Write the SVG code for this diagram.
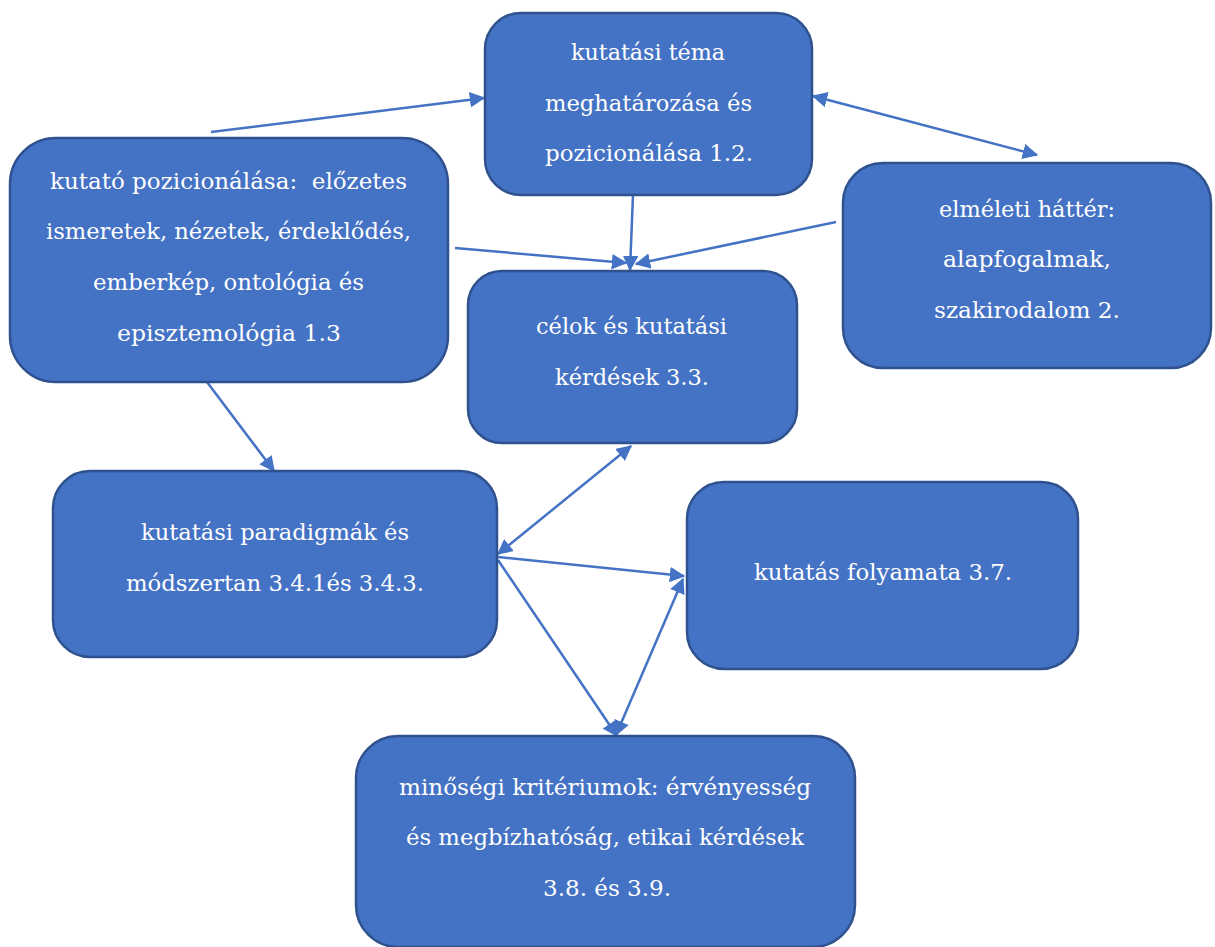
<svg xmlns="http://www.w3.org/2000/svg" width="1215" height="947" viewBox="0 0 1215 947">
  <style>
    .box { fill: #4472C4; stroke: #2F528F; stroke-width: 2.5; }
    .lbl { fill: #FFFFFF; font-family: "DejaVu Serif", "Liberation Serif", serif; font-size: 23px; text-anchor: middle; white-space: pre; }
    .edge { fill: none; stroke: #4472C4; stroke-width: 2.5; }
  </style>
  <defs>
    <marker id="head" viewBox="0 0 12 12" refX="11" refY="6" markerWidth="6.2" markerHeight="6.2" orient="auto-start-reverse" markerUnits="strokeWidth">
      <path d="M0,0 L12,6 L0,12 Z" fill="#4472C4"/>
    </marker>
  </defs>

  <rect width="1215" height="947" fill="#FFFFFF"/>

  <!-- connectors -->
  <g id="connectors">
    <line class="edge" x1="211" y1="132" x2="484" y2="98" marker-end="url(#head)"/>
    <line class="edge" x1="813" y1="96" x2="1037" y2="155" marker-start="url(#head)" marker-end="url(#head)"/>
    <line class="edge" x1="633" y1="195" x2="630" y2="270" marker-end="url(#head)"/>
    <line class="edge" x1="455" y1="248" x2="626" y2="263" marker-end="url(#head)"/>
    <line class="edge" x1="836" y1="222" x2="636" y2="264" marker-end="url(#head)"/>
    <line class="edge" x1="207" y1="382" x2="274" y2="471" marker-end="url(#head)"/>
    <line class="edge" x1="631" y1="446" x2="498" y2="554" marker-start="url(#head)" marker-end="url(#head)"/>
    <line class="edge" x1="498" y1="557" x2="684" y2="576" marker-end="url(#head)"/>
    <line class="edge" x1="498" y1="560" x2="617" y2="736" marker-end="url(#head)"/>
    <line class="edge" x1="616" y1="735" x2="683" y2="579" marker-start="url(#head)" marker-end="url(#head)"/>
  </g>

  <g id="node-tema">
    <rect class="box" x="485" y="13" width="327" height="182" rx="36"/>
    <text class="lbl" x="648" y="60" textLength="154" lengthAdjust="spacingAndGlyphs">kutatási téma</text>
    <text class="lbl" x="648.5" y="111" textLength="207" lengthAdjust="spacingAndGlyphs">meghatározása és</text>
    <text class="lbl" x="649" y="161" textLength="208" lengthAdjust="spacingAndGlyphs">pozicionálása 1.2.</text>
  </g>

  <g id="node-kutato">
    <rect class="box" x="10" y="138" width="438" height="244" rx="46"/>
    <text class="lbl" x="228.5" y="189" textLength="357" lengthAdjust="spacingAndGlyphs" xml:space="preserve">kutató pozicionálása:  előzetes</text>
    <text class="lbl" x="228.5" y="239" textLength="365" lengthAdjust="spacingAndGlyphs">ismeretek, nézetek, érdeklődés,</text>
    <text class="lbl" x="228.5" y="290" textLength="271" lengthAdjust="spacingAndGlyphs">emberkép, ontológia és</text>
    <text class="lbl" x="229" y="341" textLength="224" lengthAdjust="spacingAndGlyphs">episztemológia 1.3</text>
  </g>

  <g id="node-elmeleti">
    <rect class="box" x="843" y="163" width="368" height="205" rx="40"/>
    <text class="lbl" x="1027" y="217" textLength="176" lengthAdjust="spacingAndGlyphs">elméleti háttér:</text>
    <text class="lbl" x="1027" y="267" textLength="168" lengthAdjust="spacingAndGlyphs">alapfogalmak,</text>
    <text class="lbl" x="1027" y="318" textLength="186" lengthAdjust="spacingAndGlyphs">szakirodalom 2.</text>
  </g>

  <g id="node-celok">
    <rect class="box" x="468" y="271" width="329" height="172" rx="34"/>
    <text class="lbl" x="631.5" y="334" textLength="191" lengthAdjust="spacingAndGlyphs">célok és kutatási</text>
    <text class="lbl" x="632" y="385" textLength="154" lengthAdjust="spacingAndGlyphs">kérdések 3.3.</text>
  </g>

  <g id="node-paradigmak">
    <rect class="box" x="53" y="471" width="444" height="186" rx="37"/>
    <text class="lbl" x="275" y="540" textLength="268" lengthAdjust="spacingAndGlyphs">kutatási paradigmák és</text>
    <text class="lbl" x="275" y="591" textLength="298" lengthAdjust="spacingAndGlyphs">módszertan 3.4.1és 3.4.3.</text>
  </g>

  <g id="node-folyamat">
    <rect class="box" x="687" y="482" width="391" height="187" rx="37"/>
    <text class="lbl" x="883" y="580" textLength="258" lengthAdjust="spacingAndGlyphs">kutatás folyamata 3.7.</text>
  </g>

  <g id="node-minoseg">
    <rect class="box" x="356" y="736" width="499" height="211" rx="42"/>
    <text class="lbl" x="605" y="795" textLength="412" lengthAdjust="spacingAndGlyphs">minőségi kritériumok: érvényesség</text>
    <text class="lbl" x="605" y="845" textLength="398" lengthAdjust="spacingAndGlyphs">és megbízhatóság, etikai kérdések</text>
    <text class="lbl" x="607" y="896" textLength="128" lengthAdjust="spacingAndGlyphs">3.8. és 3.9.</text>
  </g>
</svg>
